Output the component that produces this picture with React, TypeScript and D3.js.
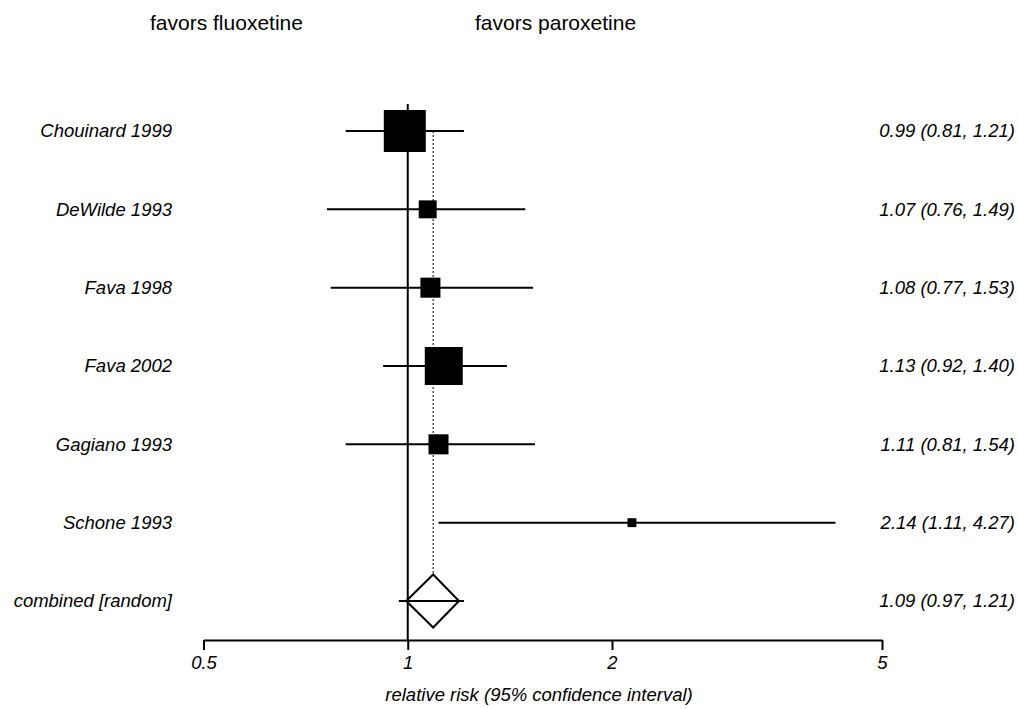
import React, { useEffect, useRef } from "react";
import * as d3 from "d3";

const studies = ["Chouinard 1999", "DeWilde 1993", "Fava 1998", "Fava 2002", "Gagiano 1993", "Schone 1993"];
const rr = [0.99, 1.07, 1.08, 1.13, 1.11, 2.14];
const lower = [0.81, 0.76, 0.77, 0.92, 0.81, 1.11];
const upper = [1.21, 1.49, 1.53, 1.4, 1.54, 4.27];
const weights = [40.0, 7.3, 9.1, 32.7, 9.1, 1.8];

const combinedLabel = "combined [random]";
const combinedRR = 1.09;
const combinedLower = 0.97;
const combinedUpper = 1.21;
const diamondLow = 0.995;
const diamondHigh = 1.19;

const tickValues = [0.5, 1, 2, 5];
const axisTitle = "relative risk (95% confidence interval)";
const headerLeft = "favors fluoxetine";
const headerRight = "favors paroxetine";

const W = 1018;
const H = 709;
const FONT = "'Liberation Sans', Arial, Helvetica, sans-serif";
const LABEL_SIZE = 18.5;

const fmt = (v: number) => v.toFixed(2);

export default function App() {
  const axisRef = useRef<SVGGElement>(null);

  const x = d3.scaleLog().domain([0.5, 5]).range([203.5, 882]);
  const rows = [...studies, combinedLabel];
  const y = d3.scalePoint<string>().domain(rows).range([131, 601]);
  const size = d3.scaleSqrt().domain([0, 40]).range([0, 42]);
  const axisY = 640;

  useEffect(() => {
    if (!axisRef.current) return;
    const g = d3.select(axisRef.current);
    g.selectAll("*").remove();
    const axis = d3
      .axisBottom(x)
      .tickValues(tickValues)
      .tickFormat((d) => String(d))
      .tickSize(10)
      .tickSizeOuter(0)
      .tickPadding(6);
    g.call(axis as any);
    g.select(".domain").attr("stroke", "#000").attr("stroke-width", 2);
    g.selectAll(".tick line").attr("stroke", "#000").attr("stroke-width", 2);
    g.selectAll(".tick text")
      .attr("fill", "#000")
      .style("font-size", `${LABEL_SIZE}px`)
      .style("font-style", "italic")
      .style("font-family", FONT);
  }, []);

  const cy = y(combinedLabel)!;
  const halfH = 26.5;

  return (
    <svg
      width={W}
      height={H}
      style={{ position: "absolute", left: 0, top: 0, background: "#fff" }}
      fontFamily={FONT}
    >
      <text x={150} y={30} fontSize={21} fill="#000">{headerLeft}</text>
      <text x={475} y={30} fontSize={21} fill="#000">{headerRight}</text>

      {/* reference line at 1 */}
      <line x1={x(1)} x2={x(1)} y1={104} y2={axisY} stroke="#000" strokeWidth={2} />

      {/* dotted line at combined estimate */}
      <line
        x1={x(combinedRR)}
        x2={x(combinedRR)}
        y1={y(studies[0])!}
        y2={cy - halfH}
        stroke="#000"
        strokeWidth={1}
        strokeDasharray="2,2"
      />

      {studies.map((s, i) => {
        const yy = y(s)!;
        const sz = size(weights[i]);
        return (
          <g key={s}>
            <line x1={x(lower[i])} x2={x(upper[i])} y1={yy} y2={yy} stroke="#000" strokeWidth={2} />
            <rect x={x(rr[i]) - sz / 2} y={yy - sz / 2} width={sz} height={sz} fill="#000" />
            <text x={172} y={yy} dy="0.35em" textAnchor="end" fontSize={LABEL_SIZE} fontStyle="italic" fill="#000">{s}</text>
            <text x={1015} y={yy} dy="0.35em" textAnchor="end" fontSize={LABEL_SIZE} fontStyle="italic" fill="#000">
              {`${fmt(rr[i])} (${fmt(lower[i])}, ${fmt(upper[i])})`}
            </text>
          </g>
        );
      })}

      {/* combined */}
      <line x1={x(combinedLower)} x2={x(combinedUpper)} y1={cy} y2={cy} stroke="#000" strokeWidth={2} />
      <polygon
        points={[
          [x(diamondLow), cy],
          [x(combinedRR), cy - halfH],
          [x(diamondHigh), cy],
          [x(combinedRR), cy + halfH],
        ]
          .map((p) => p.join(","))
          .join(" ")}
        fill="none"
        stroke="#000"
        strokeWidth={2}
      />
      <text x={172} y={cy} dy="0.35em" textAnchor="end" fontSize={LABEL_SIZE} fontStyle="italic" fill="#000">{combinedLabel}</text>
      <text x={1015} y={cy} dy="0.35em" textAnchor="end" fontSize={LABEL_SIZE} fontStyle="italic" fill="#000">
        {`${fmt(combinedRR)} (${fmt(combinedLower)}, ${fmt(combinedUpper)})`}
      </text>

      <g ref={axisRef} transform={`translate(0,${axisY})`} />

      <text x={539} y={701} textAnchor="middle" fontSize={LABEL_SIZE} fontStyle="italic" fill="#000">{axisTitle}</text>
    </svg>
  );
}
